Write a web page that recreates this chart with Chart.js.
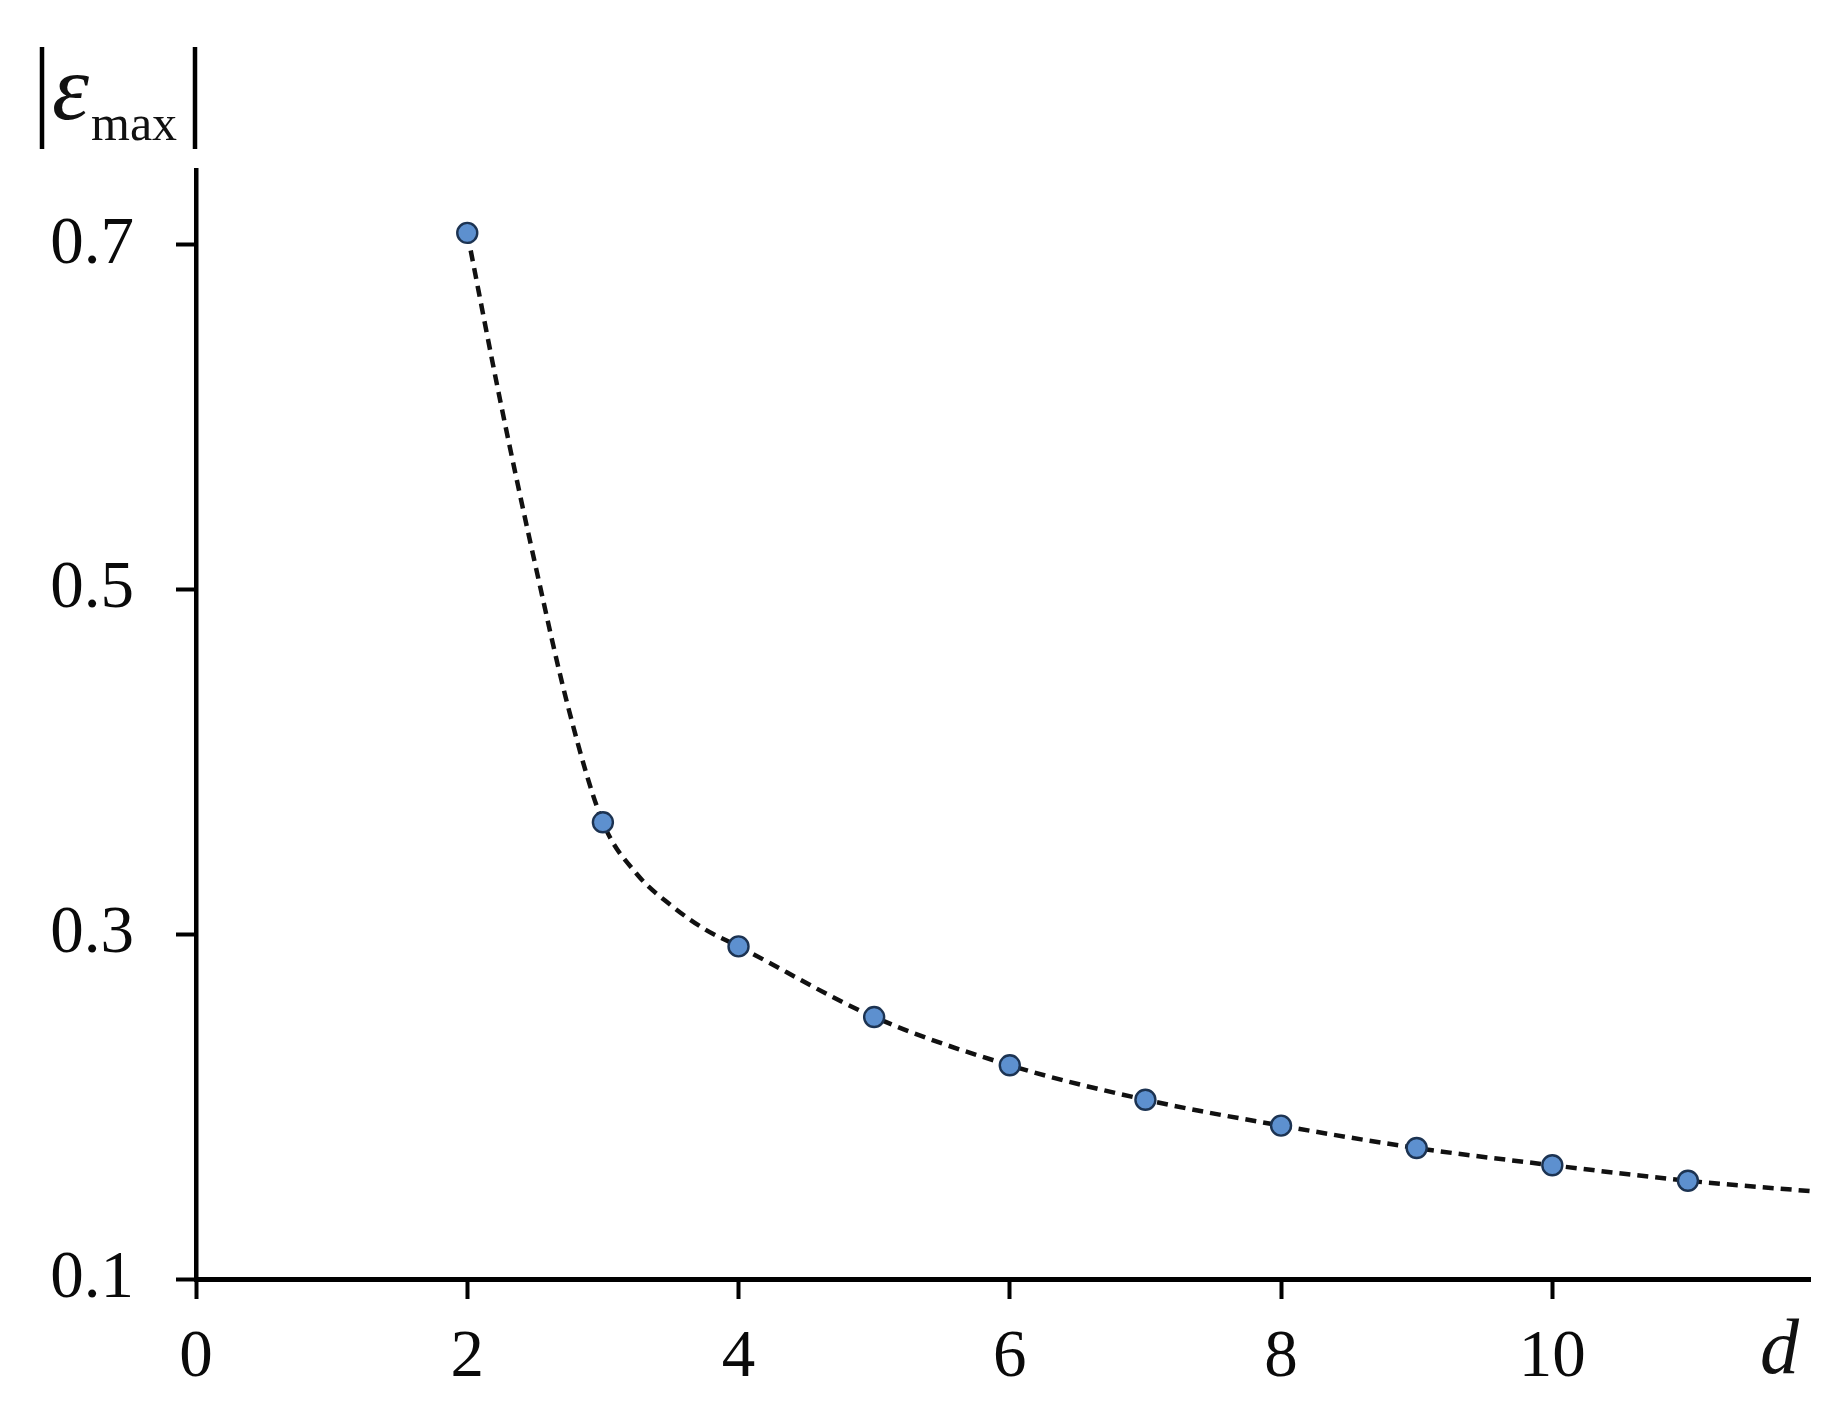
<!DOCTYPE html>
<html>
<head>
<meta charset="utf-8">
<script src="https://cdn.jsdelivr.net/npm/chart.js@4/dist/chart.umd.min.js"></script>
<style>
  html, body { margin: 0; padding: 0; background: #ffffff; }
  #wrap { width: 1842px; height: 1410px; position: relative; }
</style>
</head>
<body>
<div id="wrap"><canvas id="c" width="1842" height="1410"></canvas></div>
<script>
// ---- data ----
const dValues = [2, 3, 4, 5, 6, 7, 8, 9, 10, 11];
const epsValues = [0.707, 0.365, 0.293, 0.252, 0.224, 0.204, 0.189, 0.176, 0.166, 0.157];

// points
const curveD = [2, 2.25, 2.5, 2.75, 3, 3.25, 3.5, 3.75, 4, 5, 6, 7, 8, 9, 10, 11, 11.9];
const curveEps = [0.707, 0.607, 0.515, 0.430, 0.365, 0.335, 0.317, 0.303, 0.293, 0.252, 0.224, 0.204, 0.189, 0.176, 0.166, 0.157, 0.151];

const xTicks = [0, 2, 4, 6, 8, 10];
const yTicks = [0.1, 0.3, 0.5, 0.7];

const xLabel = 'd';
const yLabelMain = 'ε';
const yLabelSub = 'max';

const FONT = "'Liberation Serif', 'Times New Roman', serif";

const labelsPlugin = {
  id: 'axisLabels',
  afterDraw(chart) {
    const ctx = chart.ctx;
    ctx.save();
    // absolute value bars
    ctx.strokeStyle = '#000';
    ctx.lineWidth = 4.5;
    ctx.beginPath();
    ctx.moveTo(42, 47); ctx.lineTo(42, 149);
    ctx.moveTo(195, 47); ctx.lineTo(195, 149);
    ctx.stroke();
    ctx.fillStyle = '#111';
    ctx.textBaseline = 'alphabetic';
    ctx.textAlign = 'left';
    ctx.font = 'italic 94px ' + FONT;
    ctx.fillText(yLabelMain, 52, 119);
    ctx.font = '50px ' + FONT;
    ctx.fillText(yLabelSub, 91, 140);
    // x axis label
    ctx.font = 'italic 78px ' + FONT;
    ctx.fillText(xLabel, 1760, 1373);
    ctx.restore();
  }
};

const pts = dValues.map((d, i) => ({ x: d, y: epsValues[i] }));
const curve = curveD.map((d, i) => ({ x: d, y: curveEps[i] }));

new Chart(document.getElementById('c'), {
  type: 'scatter',
  data: {
    datasets: [
      {
        data: pts,
        pointRadius: 10,
        pointHoverRadius: 10,
        pointBackgroundColor: '#5d90cf',
        pointBorderColor: '#1c3352',
        pointBorderWidth: 2.4,
        showLine: false
      },
      {
        data: curve,
        showLine: true,
        pointRadius: 0,
        borderColor: '#111',
        borderWidth: 4.5,
        borderDash: [11, 7],
        cubicInterpolationMode: 'monotone',
        fill: false
      }
    ]
  },
  options: {
    responsive: false,
    animation: false,
    devicePixelRatio: 1,
    layout: { padding: { top: 170, right: 32, left: 0, bottom: 0 } },
    plugins: { legend: { display: false }, tooltip: { enabled: false } },
    scales: {
      x: {
        type: 'linear',
        min: 0,
        max: 11.9,
        afterBuildTicks(scale) { scale.ticks = xTicks.map(v => ({ value: v })); },
        afterFit(scale) { scale.height = 131; },
        grid: { drawOnChartArea: false, drawTicks: true, tickLength: 20, tickWidth: 4, tickColor: '#000' },
        border: { display: true, color: '#000', width: 5 },
        ticks: {
          font: { family: FONT, size: 67 },
          color: '#0a0a0a',
          padding: 19,
          maxRotation: 0,
          callback: v => String(v)
        }
      },
      y: {
        type: 'linear',
        min: 0.1,
        max: 0.7435,
        afterBuildTicks(scale) { scale.ticks = yTicks.map(v => ({ value: v })); },
        afterFit(scale) { scale.width = 196; },
        grid: { drawOnChartArea: false, drawTicks: true, tickLength: 20, tickWidth: 4, tickColor: '#000' },
        border: { display: true, color: '#000', width: 4.5 },
        ticks: {
          font: { family: FONT, size: 67 },
          color: '#0a0a0a',
          padding: 42,
          callback: v => Number(v).toFixed(1)
        }
      }
    }
  },
  plugins: [labelsPlugin]
});
</script>
</body>
</html>
